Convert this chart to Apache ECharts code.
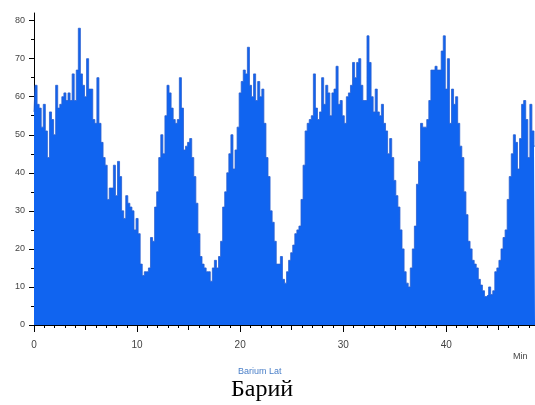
<!DOCTYPE html>
<html>
<head>
<meta charset="utf-8">
<script src="https://cdn.jsdelivr.net/npm/echarts@6/dist/echarts.min.js"></script>
<style>
  html, body { margin: 0; padding: 0; background: #fff; }
  #chart { width: 535px; height: 405px; }
</style>
</head>
<body>
<div id="chart"></div>
<script>
// sampling step of the trace, minutes
var step = 0.2;

// signal, one value every 0.2 min (0 .. 48.6)
var signal = [
  56, 63, 58, 57, 52, 58, 51, 44, 56, 54,
  50, 63, 57, 58, 60, 61, 59, 61, 59, 66,
  59, 67, 78, 66, 63, 60, 70, 62, 62, 54,
  53, 65, 53, 48, 44, 42, 33, 36, 36, 42,
  34, 43, 39, 30, 28, 34, 32, 31, 30, 25,
  28, 24, 16, 13, 14, 14, 15, 23, 22, 31,
  35, 44, 50, 45, 55, 63, 61, 57, 54, 53,
  54, 65, 57, 46, 47, 48, 49, 44, 39, 32,
  24, 18, 16, 15, 14, 14, 11.5, 15, 17, 15,
  18, 22, 31, 35, 40, 45, 50, 41, 46, 52,
  61, 64, 67, 66, 73, 63, 60, 66, 59, 64,
  60, 62, 53, 44, 39, 30, 27, 22, 16, 16,
  18, 12, 11, 14, 17, 19, 21, 24, 25, 26,
  33, 42, 51, 53, 54, 55, 66, 57, 54, 56,
  65, 58, 63, 61, 55, 61, 62, 68, 58, 59,
  55, 53, 60, 61, 63, 69, 65, 69, 70, 63,
  59, 59, 76, 69, 60, 56, 62, 56, 55, 58,
  53, 51, 45, 49, 44, 38, 34, 31, 25, 20,
  14, 11, 10, 15, 20, 26, 37, 43, 53, 52,
  52, 54, 59, 67, 67, 68, 67, 67, 72, 76,
  62, 70, 53, 62, 58, 60, 53, 47, 44, 35,
  29, 22, 20, 17, 16, 15, 12, 10.5, 9, 7.5,
  8, 10, 8, 9, 14, 15, 17, 20, 23, 25,
  33, 39, 45, 50, 48, 41, 49, 58, 59, 54,
  44, 58, 51, 47
];

var xTicks = [0, 10, 20, 30, 40];
var xMidTicks = [5, 15, 25, 35, 45];
var yTicks = [0, 10, 20, 30, 40, 50, 60, 70, 80];

var points = signal.map(function (v, i) {
  return [+(i * step).toFixed(1), v];
});

var chart = echarts.init(document.getElementById('chart'));

var option = {
  animation: false,
  grid: { left: 34, right: 0, top: 13, bottom: 80 },
  xAxis: [{
    type: 'value',
    min: 0,
    max: 48.6,
    interval: 10,
    splitLine: { show: false },
    axisLine: { lineStyle: { color: '#000', width: 1 } },
    axisTick: { length: 7, customValues: xTicks, lineStyle: { color: '#000' } },
    minorTick: { show: true, splitNumber: 10, length: 3, lineStyle: { color: '#000' } },
    axisLabel: {
      customValues: xTicks,
      margin: 15,
      fontSize: 10,
      color: '#444',
      fontFamily: 'Liberation Sans'
    }
  }, {
    type: 'value',
    min: 0,
    max: 48.6,
    position: 'bottom',
    splitLine: { show: false },
    axisLine: { show: false },
    axisTick: { length: 5, customValues: xMidTicks, lineStyle: { color: '#000' } },
    axisLabel: { show: false }
  }],
  yAxis: {
    type: 'value',
    min: 0,
    max: 82,
    interval: 10,
    splitLine: { show: false },
    axisLine: { show: true, lineStyle: { color: '#000', width: 1 } },
    axisTick: { show: true, length: 5, customValues: yTicks, lineStyle: { color: '#000' } },
    minorTick: { show: true, splitNumber: 2, length: 3, lineStyle: { color: '#000' } },
    axisLabel: {
      customValues: yTicks,
      margin: 9,
      fontSize: 9,
      color: '#444',
      fontFamily: 'Liberation Sans'
    }
  },
  series: [{
    type: 'line',
    step: 'middle',
    data: points,
    showSymbol: false,
    lineStyle: { width: 0.8, color: '#2a5fd0' },
    areaStyle: { color: '#1064f0', opacity: 1 }
  }],
  graphic: [{
    type: 'text',
    left: 513,
    top: 352,
    style: { text: 'Min', fontSize: 9, fill: '#444', fontFamily: 'Liberation Sans' }
  }, {
    type: 'text',
    left: 238,
    top: 367,
    style: { text: 'Barium Lat', fontSize: 9, fill: '#4a7fc8', fontFamily: 'Liberation Sans' }
  }, {
    type: 'text',
    left: 231,
    top: 378,
    style: { text: 'Барий', fontSize: 24, fill: '#000', fontFamily: 'Liberation Serif' }
  }]
};

chart.setOption(option);
</script>
</body>
</html>
